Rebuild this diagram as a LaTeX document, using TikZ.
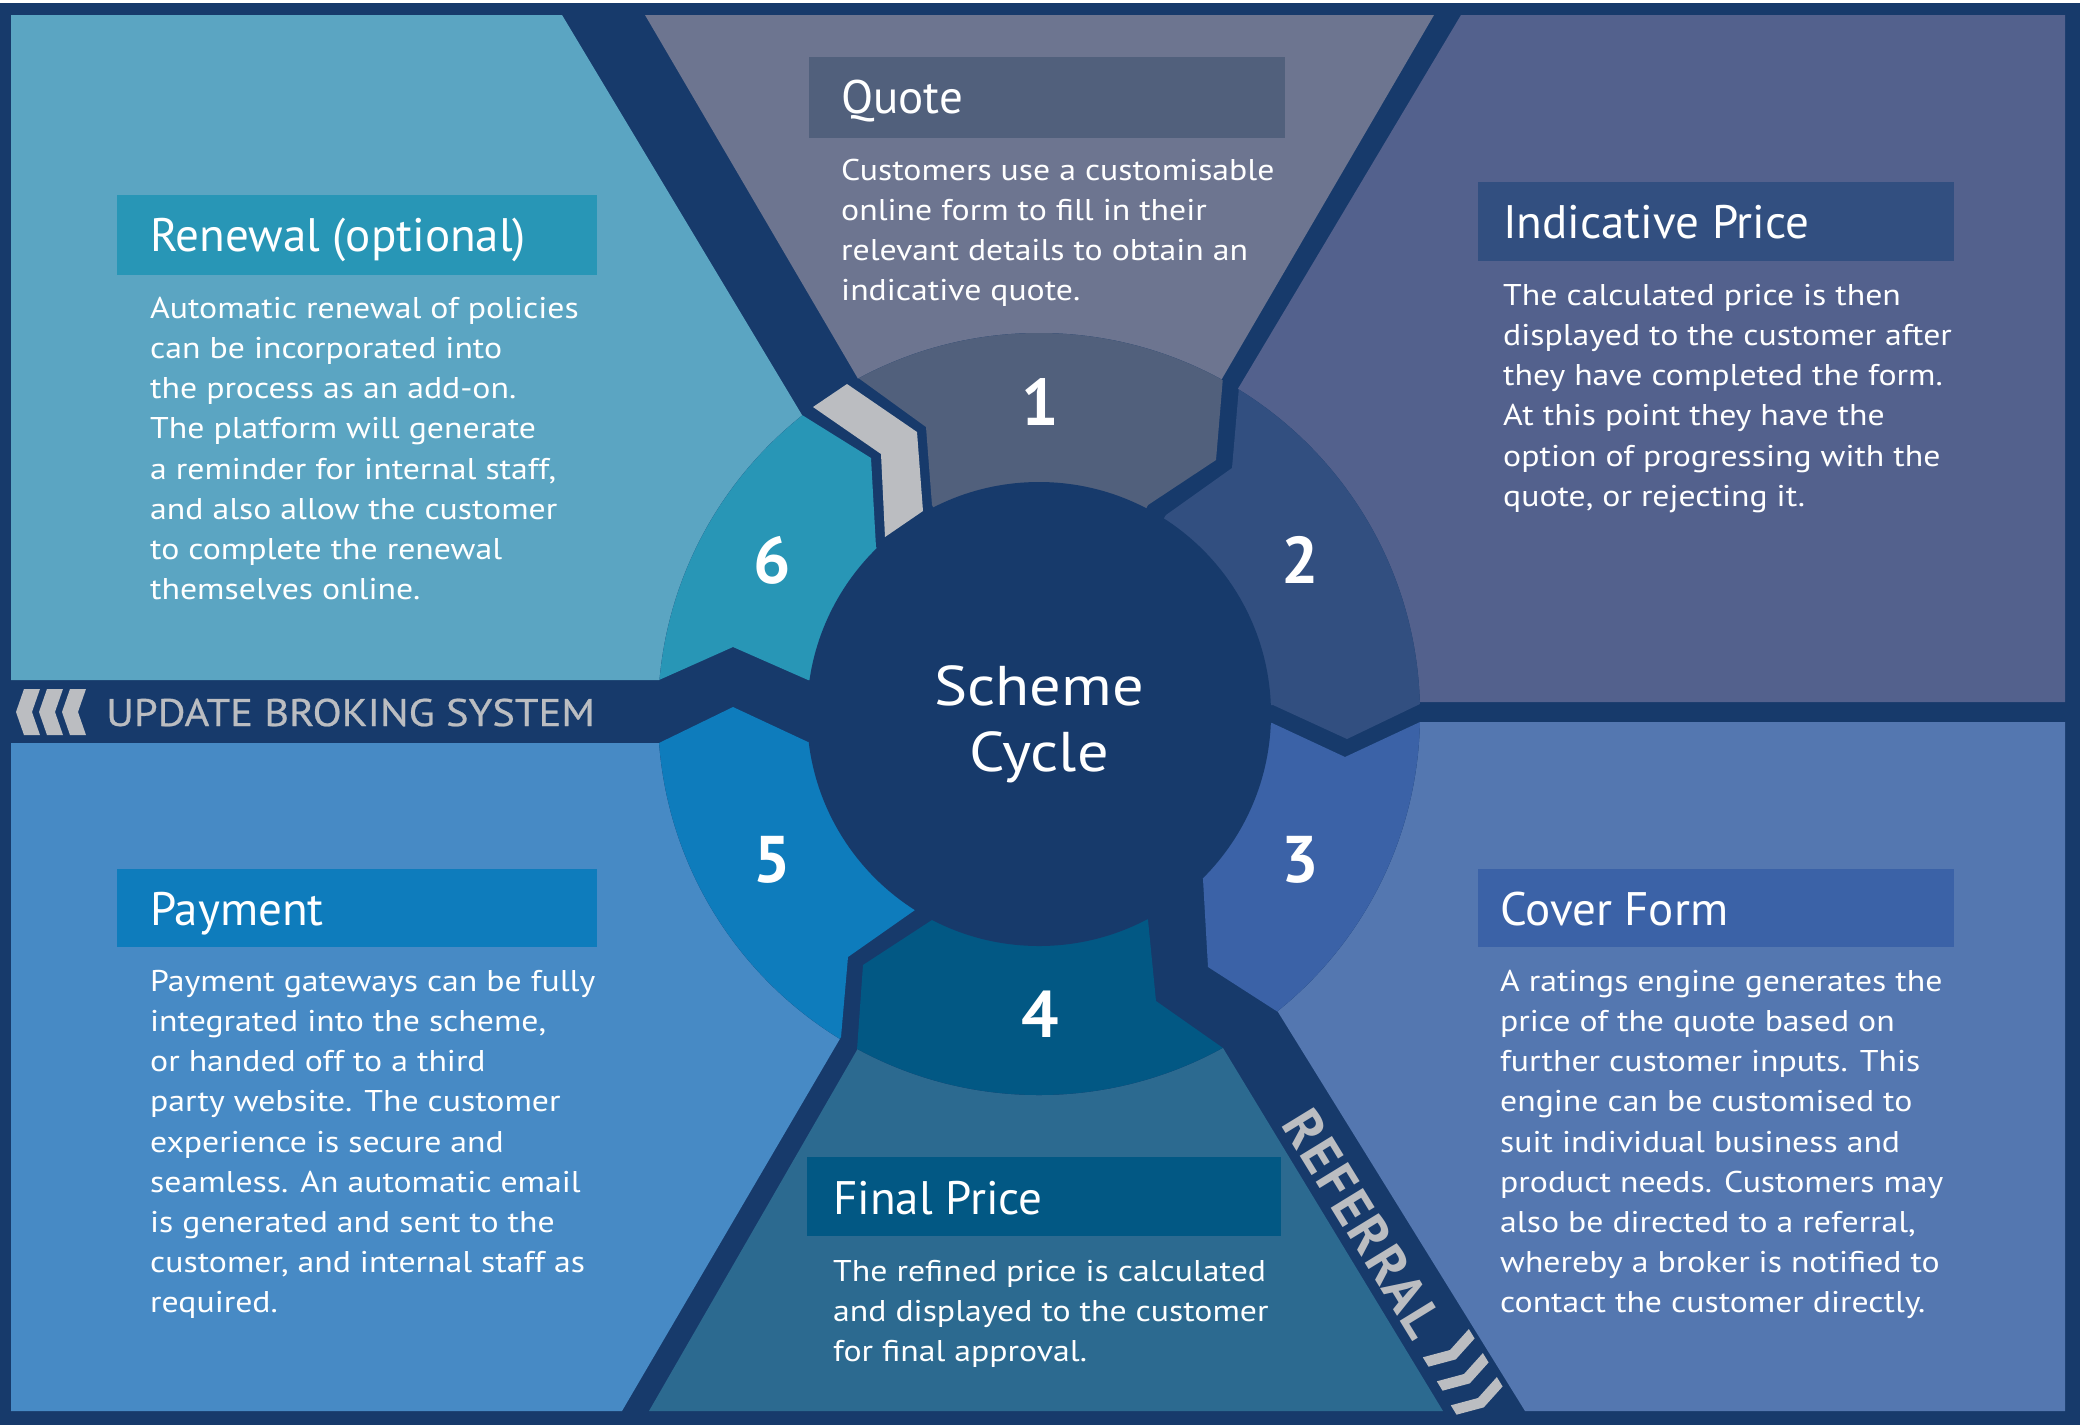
\documentclass[tikz,border=0pt]{standalone}
\usepackage{fontspec}
\setmainfont{PT Sans}
\newfontfamily\bodyfont{PT Sans}[FakeStretch=1.125]
\newfontfamily\centrefont{PT Sans}[FakeStretch=1.115]
\newfontfamily\updfont{PT Sans}[FakeStretch=1.105, FakeBold=0.6]
\definecolor{navy}{HTML}{173A6B}
\definecolor{pRen}{HTML}{5BA5C2}
\definecolor{pQuo}{HTML}{6D7590}
\definecolor{pInd}{HTML}{53618D}
\definecolor{pCov}{HTML}{5477B0}
\definecolor{pFin}{HTML}{2C6A90}
\definecolor{pPay}{HTML}{478AC5}
\definecolor{sOne}{HTML}{51607C}
\definecolor{sTwo}{HTML}{324F80}
\definecolor{sThree}{HTML}{3B62A7}
\definecolor{sFour}{HTML}{025884}
\definecolor{sFive}{HTML}{0E7CBC}
\definecolor{sSix}{HTML}{2896B6}
\definecolor{chev}{HTML}{BBBDC1}
\tikzset{
  ttl/.style={anchor=base west, inner sep=0pt, text=white, font=\fontsize{47}{56}\selectfont},
  body/.style={anchor=north west, inner sep=0pt, text=white, align=left, font=\bodyfont\fontsize{30}{40.2}\selectfont},
  num/.style={anchor=base, inner sep=0pt, text=white, font=\bfseries\fontsize{66}{70}\selectfont},
  centretext/.style={anchor=base, inner sep=0pt, text=white, font=\centrefont\fontsize{56}{66}\selectfont},
}
\newcommand{\bstrut}{\rule{0pt}{30pt}}
\begin{document}
\begin{tikzpicture}[x=1pt,y=-1pt]
\useasboundingbox (0,0) rectangle (2080,1425);
\fill[white] (0,0) rectangle (2080,3);
\fill[navy] (0,3) rectangle (2080,1425);
% panels
\fill[pRen] (11,15) -- (562,15) -- (802,415) -- (1039,714) -- (659,680) -- (11,680) -- cycle;
\fill[pQuo] (645,15) -- (1434,15) -- (1223,377) -- (1039,714) -- (857,377) -- cycle;
\fill[pInd] (1461,15) -- (2065,15) -- (2065,702) -- (1420,702) -- (1039,714) -- (1239,387) -- cycle;
\fill[pCov] (2065,722) -- (1420,722) -- (1039,714) -- (1278,1012) -- (1525,1411) -- (2065,1411) -- cycle;
\fill[pFin] (1223,1048) -- (1443,1411) -- (649,1411) -- (857,1050) -- (1039,714) -- cycle;
\fill[pPay] (11,743) -- (659,743) -- (1039,714) -- (841,1037) -- (622,1411) -- (11,1411) -- cycle;
% ring
\fill[navy] (1039,714) circle [radius=381pt];
\begin{scope}
\clip (1039,714) circle [radius=381pt];
\fill[sOne] (645,15) -- (857,377) -- (926,427) -- (932,505) -- (1039,714) -- (1148,505) -- (1216,460) -- (1223,377) -- (1434,15) -- cycle;
\fill[sTwo] (1461,15) -- (1239,387) -- (1232,468) -- (1166,515) -- (1039,714) -- (1273,705) -- (1347,739) -- (1422,703) -- (2065,703) -- (2065,15) -- cycle;
\fill[sThree] (1039,714) -- (1272,723) -- (1345,757) -- (1420,722) -- (2065,722) -- (2065,1411) -- (1525,1411) -- (1278,1012) -- (1208,967) -- (1203,879) -- cycle;
\fill[sFour] (1039,714) -- (1148,920) -- (1156,1001) -- (1223,1048) -- (1443,1411) -- (649,1411) -- (857,1050) -- (863,965) -- (932,920) -- cycle;
\fill[sFive] (1039,714) -- (808,742) -- (733,707) -- (659,743) -- (11,743) -- (11,1411) -- (622,1411) -- (841,1037) -- (848,957) -- (915,910) -- cycle;
\fill[sSix] (1039,714) -- (876,547) -- (871,458) -- (802,415) -- (562,15) -- (11,15) -- (11,680) -- (659,680) -- (733,647) -- (808,680) -- cycle;
\end{scope}
\fill[chev] (813,407) -- (847,384) -- (917,432) -- (923,511) -- (885,537) -- (881,454) -- cycle;
\fill[navy] (1039,714) circle [radius=232pt];
% centre text
\node[centretext] (scheme) at (1039,705) {Scheme};
\node[centretext] (cycle) at (1039,771) {Cycle};
% numbers
\node[num] (n1) at (1040,425) {1};
\node[num] (n2) at (1300,583) {2};
\node[num] (n3) at (1300,882) {3};
\node[num] (n4) at (1040,1037) {4};
\node[num] (n5) at (772,882) {5};
\node[num] (n6) at (772,583) {6};
% title boxes
\fill[sOne] (809,57) rectangle (1285,138);
\fill[sSix] (117,195) rectangle (597,275);
\fill[sTwo] (1478,182) rectangle (1954,261);
\fill[sThree] (1478,869) rectangle (1954,947);
\fill[sFour] (807,1157) rectangle (1281,1236);
\fill[sFive] (117,869) rectangle (597,947);
% titles
\node[ttl] (tQuote) at (841,113) {Quote};
\node[ttl] (tRenewal) at (150,251) {Renewal (optional)};
\node[ttl] (tIndic) at (1503,238) {Indicative Price};
\node[ttl] (tCover) at (1500,925) {Cover Form};
\node[ttl] (tFinal) at (833,1214) {Final Price};
\node[ttl] (tPay) at (150,925) {Payment};
% bodies
\node[body] (bQuote) at (841,150) {\bstrut Customers use a customisable\\online form to fill in their\\relevant details to obtain an\\indicative quote.};
\node[body] (bRenewal) at (150,288) {\bstrut Automatic renewal of policies\\can be incorporated into\\the process as an add-on.\\The platform will generate\\a reminder for internal staff,\\and also allow the customer\\to complete the renewal\\themselves online.};
\node[body] (bIndic) at (1503,275) {\bstrut The calculated price is then\\displayed to the customer after\\they have completed the form.\\At this point they have the\\option of progressing with the\\quote, or rejecting it.};
\node[body] (bCover) at (1500,961) {\bstrut A ratings engine generates the\\price of the quote based on\\further customer inputs. This\\engine can be customised to\\suit individual business and\\product needs. Customers may\\also be directed to a referral,\\whereby a broker is notified to\\contact the customer directly.};
\node[body] (bFinal) at (833,1251) {\bstrut The refined price is calculated\\and displayed to the customer\\for final approval.};
\node[body] (bPay) at (150,961) {\bstrut Payment gateways can be fully\\integrated into the scheme,\\or handed off to a third\\party website. The customer\\experience is secure and\\seamless. An automatic email\\is generated and sent to the\\customer, and internal staff as\\required.};
% update broking system
\foreach \xo in {16,39,62} {
  \fill[chev] (\xo,712) -- (\xo+8,689) -- (\xo+24,689) -- (\xo+16,712) -- (\xo+24,735) -- (\xo+8,735) -- cycle;
}
\node[anchor=base west, inner sep=0pt, text=chev, font=\updfont\fontsize{38.5}{40}\selectfont] (update) at (106,726) {UPDATE BROKING SYSTEM};
% referral
\node[rotate=-58.5, inner sep=0pt, text=chev, font=\bfseries\fontsize{54}{54}\selectfont\addfontfeature{LetterSpace=4}] (referral) at (1363,1223) {REFERRAL};
\foreach \cx/\cy in {1450/1350,1464/1374,1478/1398} {
  \begin{scope}[shift={(\cx,\cy)}, rotate=-58.5]
    \fill[chev] (-8,-27) -- (3,-27) -- (11,0) -- (3,27) -- (-8,27) -- (0,0) -- cycle;
  \end{scope}
}
\end{tikzpicture}
\end{document}
